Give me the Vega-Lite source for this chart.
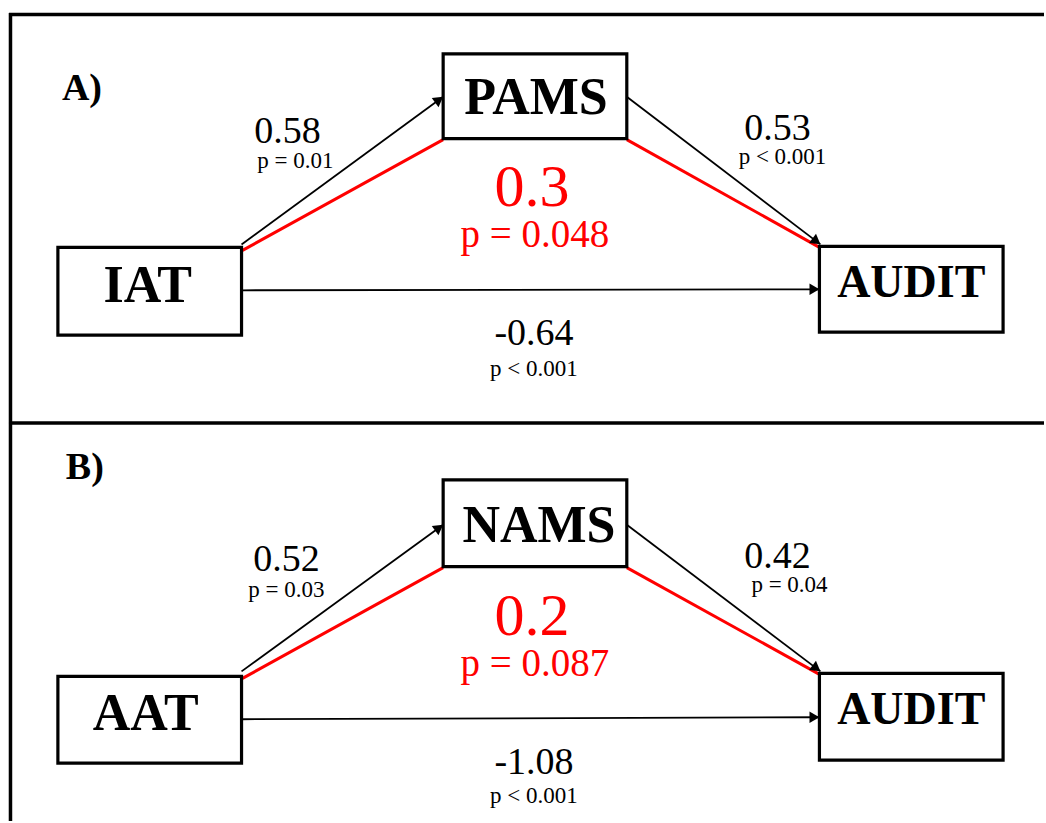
{
  "$schema": "https://vega.github.io/schema/vega-lite/v6.json",
  "width": 1046,
  "height": 823,
  "autosize": {"type": "fit", "contains": "padding"},
  "padding": 0,
  "background": "white",
  "view": {"stroke": null},
  "config": {"font": "Liberation Serif"},
  "datasets": {
    "frame": [
      {"part": "top", "x": 9, "y": 14.5, "x2": 1046, "y2": 14.5},
      {"part": "left", "x": 10.5, "y": 13, "x2": 10.5, "y2": 823},
      {"part": "divider", "x": 9, "y": 424, "x2": 1046, "y2": 424}
    ],
    "edges": [
      {"panel": "A", "path": "IAT-PAMS", "kind": "path", "x": 242, "y": 245, "x2": 444, "y2": 97},
      {"panel": "A", "path": "PAMS-AUDIT", "kind": "path", "x": 628, "y": 97, "x2": 822, "y2": 245},
      {"panel": "A", "path": "IAT-AUDIT", "kind": "path", "x": 242, "y": 291, "x2": 821, "y2": 290},
      {"panel": "A", "path": "indirect-1", "kind": "indirect", "x": 243, "y": 251, "x2": 444, "y2": 140},
      {"panel": "A", "path": "indirect-2", "kind": "indirect", "x": 628, "y": 140, "x2": 821, "y2": 248},
      {"panel": "B", "path": "AAT-NAMS", "kind": "path", "x": 242, "y": 673, "x2": 444, "y2": 526},
      {"panel": "B", "path": "NAMS-AUDIT", "kind": "path", "x": 628, "y": 526, "x2": 822, "y2": 673},
      {"panel": "B", "path": "AAT-AUDIT", "kind": "path", "x": 242, "y": 721, "x2": 821, "y2": 719},
      {"panel": "B", "path": "indirect-1", "kind": "indirect", "x": 243, "y": 680, "x2": 444, "y2": 569},
      {"panel": "B", "path": "indirect-2", "kind": "indirect", "x": 628, "y": 569, "x2": 821, "y2": 676}
    ],
    "boxes": [
      {"panel": "A", "name": "IAT", "x": 58, "x2": 242, "y": 248, "y2": 336, "tx": 148, "ty": 303},
      {"panel": "A", "name": "PAMS", "x": 444, "x2": 628, "y": 54, "y2": 139, "tx": 537, "ty": 114},
      {"panel": "A", "name": "AUDIT", "x": 821, "x2": 1005, "y": 247, "y2": 333, "tx": 913, "ty": 298},
      {"panel": "B", "name": "AAT", "x": 58, "x2": 242, "y": 678, "y2": 765, "tx": 146, "ty": 732},
      {"panel": "B", "name": "NAMS", "x": 444, "x2": 628, "y": 481, "y2": 568, "tx": 540, "ty": 543},
      {"panel": "B", "name": "AUDIT", "x": 821, "x2": 1005, "y": 675, "y2": 762, "tx": 913, "ty": 726}
    ],
    "labels": [
      {"panel": "A", "role": "coef", "text": "0.58", "x": 288, "y": 143},
      {"panel": "A", "role": "p", "text": "p = 0.01", "x": 296, "y": 168},
      {"panel": "A", "role": "coef", "text": "0.53", "x": 779, "y": 140},
      {"panel": "A", "role": "p", "text": "p < 0.001", "x": 784, "y": 164},
      {"panel": "A", "role": "indirect", "text": "0.3", "x": 533, "y": 207},
      {"panel": "A", "role": "indirect p", "text": "p = 0.048", "x": 536, "y": 248},
      {"panel": "A", "role": "coef", "text": "-0.64", "x": 535, "y": 346},
      {"panel": "A", "role": "p", "text": "p < 0.001", "x": 535, "y": 377},
      {"panel": "B", "role": "coef", "text": "0.52", "x": 287, "y": 572},
      {"panel": "B", "role": "p", "text": "p = 0.03", "x": 287, "y": 598},
      {"panel": "B", "role": "coef", "text": "0.42", "x": 779, "y": 569},
      {"panel": "B", "role": "p", "text": "p = 0.04", "x": 791, "y": 593},
      {"panel": "B", "role": "indirect", "text": "0.2", "x": 533, "y": 637},
      {"panel": "B", "role": "indirect p", "text": "p = 0.087", "x": 536, "y": 678},
      {"panel": "B", "role": "coef", "text": "-1.08", "x": 535, "y": 776},
      {"panel": "B", "role": "p", "text": "p < 0.001", "x": 535, "y": 805}
    ],
    "panels": [
      {"text": "A)", "x": 62, "y": 100},
      {"text": "B)", "x": 66, "y": 480}
    ]
  },
  "layer": [
    {
      "data": {"name": "frame"},
      "mark": {"type": "rule", "color": "black", "strokeWidth": 3.5, "strokeCap": "butt"},
      "encoding": {
        "x": {"field": "x", "type": "quantitative", "scale": {"domain": [0, 1046], "nice": false, "zero": false}, "axis": null},
        "y": {"field": "y", "type": "quantitative", "scale": {"domain": [0, 823], "nice": false, "zero": false, "reverse": true}, "axis": null},
        "x2": {"field": "x2"},
        "y2": {"field": "y2"}
      }
    },
    {
      "data": {"name": "edges"},
      "transform": [{"filter": "datum.kind === 'path'"}],
      "mark": {"type": "rule", "strokeCap": "butt", "color": "black", "strokeWidth": 1.8},
      "encoding": {
        "x": {"field": "x", "type": "quantitative"},
        "y": {"field": "y", "type": "quantitative"},
        "x2": {"field": "x2"},
        "y2": {"field": "y2"}
      }
    },
    {
      "data": {"name": "edges"},
      "transform": [{"filter": "datum.kind === 'indirect'"}],
      "mark": {"type": "rule", "strokeCap": "butt", "color": "#ff0000", "strokeWidth": 3},
      "encoding": {
        "x": {"field": "x", "type": "quantitative"},
        "y": {"field": "y", "type": "quantitative"},
        "x2": {"field": "x2"},
        "y2": {"field": "y2"}
      }
    },
    {
      "data": {"name": "edges"},
      "transform": [
        {"filter": "datum.kind === 'path'"},
        {"calculate": "atan2(datum.y2 - datum.y, datum.x2 - datum.x)", "as": "theta"},
        {"calculate": "datum.theta * 180 / PI", "as": "heading"},
        {"calculate": "datum.x2 - 5 * cos(datum.theta)", "as": "hx"},
        {"calculate": "datum.y2 - 5 * sin(datum.theta)", "as": "hy"}
      ],
      "mark": {"type": "point", "shape": "triangle-right", "filled": true, "color": "black", "opacity": 1, "size": 130},
      "encoding": {
        "x": {"field": "hx", "type": "quantitative"},
        "y": {"field": "hy", "type": "quantitative"},
        "angle": {"field": "heading", "type": "quantitative", "scale": {"domain": [0, 360], "range": [0, 360]}}
      }
    },
    {
      "data": {"name": "boxes"},
      "mark": {"type": "rect", "fill": "white", "stroke": "black", "strokeWidth": 3.2},
      "encoding": {
        "x": {"field": "x", "type": "quantitative"},
        "x2": {"field": "x2"},
        "y": {"field": "y", "type": "quantitative"},
        "y2": {"field": "y2"}
      }
    },
    {
      "data": {"name": "boxes"},
      "mark": {"type": "text", "fontWeight": "bold", "baseline": "alphabetic", "align": "center", "color": "black"},
      "encoding": {
        "x": {"field": "tx", "type": "quantitative"},
        "y": {"field": "ty", "type": "quantitative"},
        "text": {"field": "name"},
        "size": {"condition": {"test": "datum.name === 'AUDIT'", "value": 46}, "value": 52}
      }
    },
    {
      "data": {"name": "labels"},
      "transform": [{"filter": "datum.role === 'coef'"}],
      "mark": {"type": "text", "baseline": "alphabetic", "align": "center", "fontSize": 38, "color": "black"},
      "encoding": {
        "x": {"field": "x", "type": "quantitative"},
        "y": {"field": "y", "type": "quantitative"},
        "text": {"field": "text"}
      }
    },
    {
      "data": {"name": "labels"},
      "transform": [{"filter": "datum.role === 'p'"}],
      "mark": {"type": "text", "baseline": "alphabetic", "align": "center", "fontSize": 23, "color": "black"},
      "encoding": {
        "x": {"field": "x", "type": "quantitative"},
        "y": {"field": "y", "type": "quantitative"},
        "text": {"field": "text"}
      }
    },
    {
      "data": {"name": "labels"},
      "transform": [{"filter": "datum.role === 'indirect'"}],
      "mark": {"type": "text", "baseline": "alphabetic", "align": "center", "fontSize": 60, "color": "#ff0000"},
      "encoding": {
        "x": {"field": "x", "type": "quantitative"},
        "y": {"field": "y", "type": "quantitative"},
        "text": {"field": "text"}
      }
    },
    {
      "data": {"name": "labels"},
      "transform": [{"filter": "datum.role === 'indirect p'"}],
      "mark": {"type": "text", "baseline": "alphabetic", "align": "center", "fontSize": 39, "color": "#ff0000"},
      "encoding": {
        "x": {"field": "x", "type": "quantitative"},
        "y": {"field": "y", "type": "quantitative"},
        "text": {"field": "text"}
      }
    },
    {
      "data": {"name": "panels"},
      "mark": {"type": "text", "fontWeight": "bold", "baseline": "alphabetic", "align": "left", "fontSize": 38, "color": "black"},
      "encoding": {
        "x": {"field": "x", "type": "quantitative"},
        "y": {"field": "y", "type": "quantitative"},
        "text": {"field": "text"}
      }
    }
  ]
}
